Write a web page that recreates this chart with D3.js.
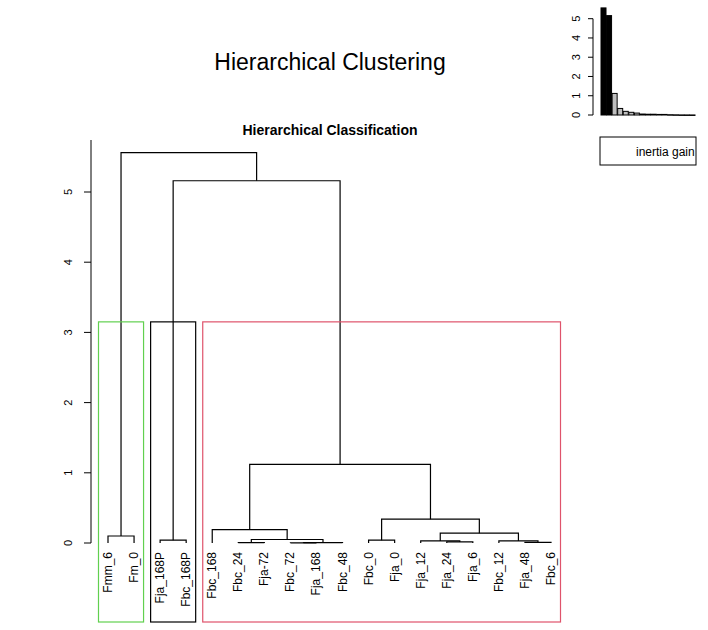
<!DOCTYPE html>
<html><head><meta charset="utf-8">
<script src="https://cdn.jsdelivr.net/npm/d3@7"></script>
<style>body{margin:0;background:#fff}text{font-family:"Liberation Sans",Arial,sans-serif}</style>
</head><body><div id="chart"></div>
<script>
// leaves in plotting order
const leaves = ["Fmm_6","Fm_0","Fja_168P","Fbc_168P","Fbc_168","Fbc_24","Fja-72","Fbc_72","Fja_168","Fbc_48",
                "Fbc_0","Fja_0","Fja_12","Fja_24","Fja_6","Fbc_12","Fja_48","Fbc_6"];
// merges: negative = leaf index, positive = previous merge (1-based), like hclust
const merges = [[-6,-7],[-8,-9],[2,-10],[1,3],[-5,4],[-14,-15],[-13,6],[-17,-18],[-16,8],[7,9],[-11,-12],[11,10],[5,12],[-3,-4],[-1,-2],[14,13],[15,16]];
const heights = [0.004,0.003,0.005,0.05,0.19,0.015,0.03,0.01,0.03,0.14,0.04,0.34,1.12,0.04,0.10,5.16,5.56];
// cluster boxes: first leaf, last leaf, colour
const clusters = [[0,1,"#61d04f"],[2,3,"#000000"],[4,17,"#df536b"]];
const yTicks = [0,1,2,3,4,5];
const gainTicks = [0,1,2,3,4,5];
const gains = heights.slice().sort((a,b)=>b-a);

const svg = d3.select("#chart").append("svg").attr("width",708).attr("height",630);

const x = d3.scalePoint().domain(d3.range(leaves.length)).range([108,551]);
const y = d3.scaleLinear().domain([0,5]).range([543,192]);

svg.append("text").attr("x",330).attr("y",70).attr("text-anchor","middle")
  .style("font-size","23px").text("Hierarchical Clustering");
svg.append("text").attr("x",330).attr("y",135).attr("text-anchor","middle")
  .style("font-size","14px").style("font-weight","bold").text("Hierarchical Classification");

// y axis
const ax = svg.append("g");
ax.append("line").attr("x1",91).attr("x2",91).attr("y1",y(0)).attr("y2",140).attr("stroke","#000");
yTicks.forEach(t=>{
  ax.append("line").attr("x1",84).attr("x2",91).attr("y1",y(t)).attr("y2",y(t)).attr("stroke","#000");
  ax.append("text").attr("transform",`translate(72,${y(t)}) rotate(-90)`).attr("text-anchor","middle")
    .style("font-size","11px").text(t);
});

// dendrogram
const nodes = [];
const pos = id => id<0 ? {x:x(-id-1), h:0} : nodes[id-1];
const g = svg.append("g").attr("fill","none").attr("stroke","#000").attr("stroke-width",1.2);
merges.forEach((m,i)=>{
  const a = pos(m[0]), b = pos(m[1]), h = heights[i];
  g.append("path").attr("d",`M${a.x},${y(a.h)}V${y(h)}H${b.x}V${y(b.h)}`);
  nodes.push({x:(a.x+b.x)/2, h:h});
});

// labels
leaves.forEach((l,i)=>{
  svg.append("text").attr("transform",`translate(${x(i)+4},552) rotate(-90)`)
    .attr("text-anchor","end").style("font-size","12px").text(l);
});

// cluster rectangles
clusters.forEach(c=>{
  svg.append("rect").attr("x",x(c[0])-9.5).attr("y",y(3.15))
    .attr("width",x(c[1])-x(c[0])+19).attr("height",622-y(3.15))
    .attr("fill","none").attr("stroke",c[2]).attr("stroke-width",1.2);
});

// inertia gain inset
const bx = d3.scaleBand().domain(d3.range(gains.length)).range([601,695]).paddingInner(0.1);
const by = d3.scaleLinear().domain([0,5]).range([115,18.7]);
svg.append("line").attr("x1",593).attr("x2",593).attr("y1",by(0)).attr("y2",by(5)).attr("stroke","#000");
gainTicks.forEach(t=>{
  svg.append("line").attr("x1",588).attr("x2",593).attr("y1",by(t)).attr("y2",by(t)).attr("stroke","#000");
  svg.append("text").attr("transform",`translate(580,${by(t)}) rotate(-90)`).attr("text-anchor","middle")
    .style("font-size","11px").text(t);
});
svg.selectAll(".gain").data(gains).join("rect")
  .attr("x",(d,i)=>bx(i)).attr("width",bx.bandwidth())
  .attr("y",d=>by(d)).attr("height",d=>Math.max(by(0)-by(d),0.5))
  .attr("fill",(d,i)=>i<2?"#000":"#bebebe").attr("stroke","#000").attr("stroke-width",1);
svg.append("rect").attr("x",600).attr("y",137).attr("width",96).attr("height",28)
  .attr("fill","none").attr("stroke","#000");
svg.append("text").attr("x",636).attr("y",156).style("font-size","12px").text("inertia gain");
</script></body></html>
